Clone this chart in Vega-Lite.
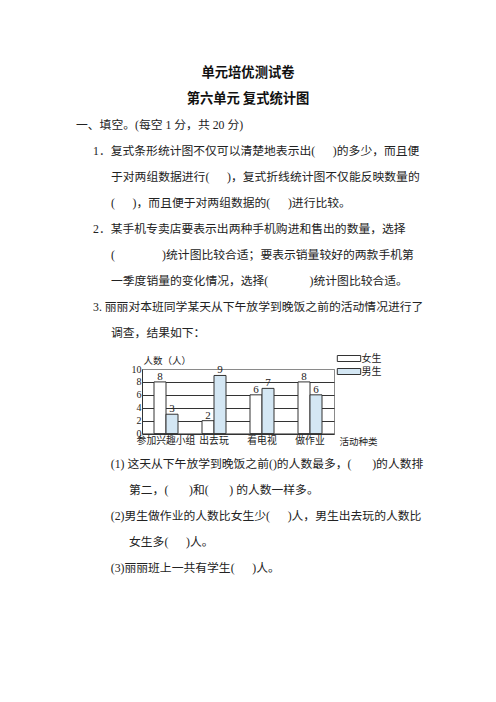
{
  "$schema": "https://vega.github.io/schema/vega-lite/v6.json",
  "background": "white",
  "padding": 0,
  "bounds": "full",
  "spacing": 0,
  "config": {"view": {"stroke": null}},
  "vconcat": [
    {
      "width": 496,
      "height": 353.7,
      "data": {"values": [
        {"行": 1, "类": "标题", "内容": "单元培优测试卷"},
        {"行": 2, "类": "标题", "内容": "第六单元 复式统计图"},
        {"行": 3, "类": "大题", "内容": "一、填空。(每空 1 分，共 20 分)"},
        {"行": 4, "类": "小题", "内容": "1．复式条形统计图不仅可以清楚地表示出(\u3000\u2002)的多少，而且便"},
        {"行": 5, "类": "续行", "内容": "于对两组数据进行(\u3000\u2002)，复式折线统计图不仅能反映数量的"},
        {"行": 6, "类": "续行", "内容": "(\u3000\u2002)，而且便于对两组数据的(\u3000\u2002)进行比较。"},
        {"行": 7, "类": "小题", "内容": "2．某手机专卖店要表示出两种手机购进和售出的数量，选择"},
        {"行": 8, "类": "续行", "内容": "(\u3000\u3000\u3000\u3000)统计图比较合适；要表示销量较好的两款手机第"},
        {"行": 9, "类": "续行", "内容": "一季度销量的变化情况，选择(\u3000\u3000\u3000\u2002)统计图比较合适。"},
        {"行": 10, "类": "小题", "内容": "3. 丽丽对本班同学某天从下午放学到晚饭之前的活动情况进行了"},
        {"行": 11, "类": "续行", "内容": "调查，结果如下："}
      ]},
      "encoding": {
        "y": {"field": "行", "type": "quantitative", "scale": {"domain": [-1.819, 11.785], "reverse": true, "nice": false, "zero": false}, "axis": null},
        "text": {"field": "内容", "type": "nominal"}
      },
      "layer": [
        {"transform": [{"filter": "datum['类'] === '标题'"}],
         "mark": {"type": "text", "x": 248, "align": "center", "baseline": "middle", "font": "Noto Sans CJK SC", "fontSize": 13.3, "fontWeight": "bold", "fill": "#111"}},
        {"transform": [{"filter": "datum['类'] === '大题'"}],
         "mark": {"type": "text", "x": 76, "align": "left", "baseline": "middle", "font": "Liberation Serif, Noto Sans CJK SC", "fontSize": 11.8, "fill": "#222"}},
        {"transform": [{"filter": "datum['类'] === '小题'"}],
         "mark": {"type": "text", "x": 93, "align": "left", "baseline": "middle", "font": "Liberation Serif, Noto Sans CJK SC", "fontSize": 11.8, "fill": "#222"}},
        {"transform": [{"filter": "datum['类'] === '续行'"}],
         "mark": {"type": "text", "x": 111, "align": "left", "baseline": "middle", "font": "Liberation Serif, Noto Sans CJK SC", "fontSize": 11.8, "fill": "#222"}}
      ]
    },
    {
      "hconcat": [
        {"width": 141.3, "height": 64.6, "data": {"values": []}, "mark": {"type": "text"}, "encoding": {}},
        {
          "width": 192,
          "height": 64.6,
          "view": {"stroke": "#8a8a8a", "strokeWidth": 1},
          "data": {"values": [
            {"活动": "参加兴趣小组", "性别": "女生", "人数": 8},
            {"活动": "参加兴趣小组", "性别": "男生", "人数": 3},
            {"活动": "出去玩", "性别": "女生", "人数": 2},
            {"活动": "出去玩", "性别": "男生", "人数": 9},
            {"活动": "看电视", "性别": "女生", "人数": 6},
            {"活动": "看电视", "性别": "男生", "人数": 7},
            {"活动": "做作业", "性别": "女生", "人数": 8},
            {"活动": "做作业", "性别": "男生", "人数": 6}
          ]},
          "encoding": {
            "x": {
              "field": "活动", "type": "nominal",
              "sort": ["参加兴趣小组", "出去玩", "看电视", "做作业"],
              "scale": {"paddingInner": 0, "paddingOuter": 0},
              "axis": {
                "title": "活动种类", "titleX": 197, "titleY": 7.5, "titleAlign": "left", "titleBaseline": "middle",
                "titleFont": "Noto Sans CJK SC", "titleFontSize": 9.5, "titleFontWeight": "normal", "titleColor": "#222",
                "labelAngle": 0, "labelFont": "Noto Sans CJK SC", "labelFontSize": 9.8, "labelColor": "#222",
                "labelPadding": 2, "ticks": false, "tickSize": 0, "domainColor": "#333", "domainWidth": 1
              }
            },
            "xOffset": {"field": "性别", "type": "nominal", "sort": ["女生", "男生"], "scale": {"paddingInner": 0, "paddingOuter": 2.43}},
            "y": {
              "field": "人数", "type": "quantitative",
              "scale": {"domain": [0, 10]},
              "axis": {
                "values": [0, 2, 4, 6, 8, 10], "grid": true,
                "gridColor": {"condition": {"test": "datum.value === 10", "value": "#8a8a8a"}, "value": "#333"},
                "gridWidth": 1, "domainColor": "#333", "domainWidth": 1,
                "ticks": false, "tickSize": 0, "labelPadding": 1, "labelFlush": false,
                "labelFont": "Liberation Serif", "labelFontSize": 10, "labelColor": "#222",
                "title": "人数（人）", "titleAngle": 0, "titleAlign": "left", "titleBaseline": "middle",
                "titleX": 1, "titleY": -9, "titleFont": "Noto Sans CJK SC", "titleFontSize": 9.5,
                "titleFontWeight": "normal", "titleColor": "#222"
              }
            }
          },
          "layer": [
            {
              "mark": {"type": "bar", "stroke": "#333", "strokeWidth": 1},
              "encoding": {
                "fill": {
                  "field": "性别", "type": "nominal",
                  "scale": {"domain": ["女生", "男生"], "range": ["#ffffff", "#d4e7f4"]},
                  "legend": {
                    "orient": "none", "legendX": 344, "legendY": 353.5, "title": null,
                    "symbolType": "M-3.9,-1H3.9V1H-3.9Z", "symbolSize": 36,
                    "symbolStrokeColor": "#333", "symbolStrokeWidth": 1, "symbolOpacity": 1,
                    "labelFont": "Noto Sans CJK SC", "labelFontSize": 10, "labelColor": "#222",
                    "labelOffset": 7.5, "rowPadding": 3, "padding": 0
                  }
                }
              }
            },
            {
              "mark": {"type": "text", "baseline": "alphabetic", "dy": -2, "font": "Liberation Serif", "fontSize": 11, "fill": "#222"},
              "encoding": {"text": {"field": "人数", "type": "quantitative"}}
            }
          ]
        }
      ],
      "spacing": 0,
      "bounds": "flush"
    },
    {
      "width": 496,
      "height": 255.6,
      "data": {"values": [
        {"行": 1, "类": "小题", "内容": "(1) 这天从下午放学到晚饭之前()的人数最多，(\u3000\u2002\u2005)的人数排"},
        {"行": 2, "类": "续行", "内容": "第二，(\u3000\u2002\u2005)和(\u3000\u2002\u2005) 的人数一样多。"},
        {"行": 3, "类": "小题", "内容": "(2)男生做作业的人数比女生少(\u3000\u2002)人，男生出去玩的人数比"},
        {"行": 4, "类": "续行", "内容": "女生多(\u3000\u2002)人。"},
        {"行": 5, "类": "小题", "内容": "(3)丽丽班上一共有学生(\u3000\u2002)人。"}
      ]},
      "encoding": {
        "y": {"field": "行", "type": "quantitative", "scale": {"domain": [0.35, 10.181], "reverse": true, "nice": false, "zero": false}, "axis": null},
        "text": {"field": "内容", "type": "nominal"}
      },
      "layer": [
        {"transform": [{"filter": "datum['类'] === '小题'"}],
         "mark": {"type": "text", "x": 110.7, "align": "left", "baseline": "middle", "font": "Liberation Serif, Noto Sans CJK SC", "fontSize": 11.8, "fill": "#222"}},
        {"transform": [{"filter": "datum['类'] === '续行'"}],
         "mark": {"type": "text", "x": 129, "align": "left", "baseline": "middle", "font": "Liberation Serif, Noto Sans CJK SC", "fontSize": 11.8, "fill": "#222"}}
      ]
    }
  ]
}
